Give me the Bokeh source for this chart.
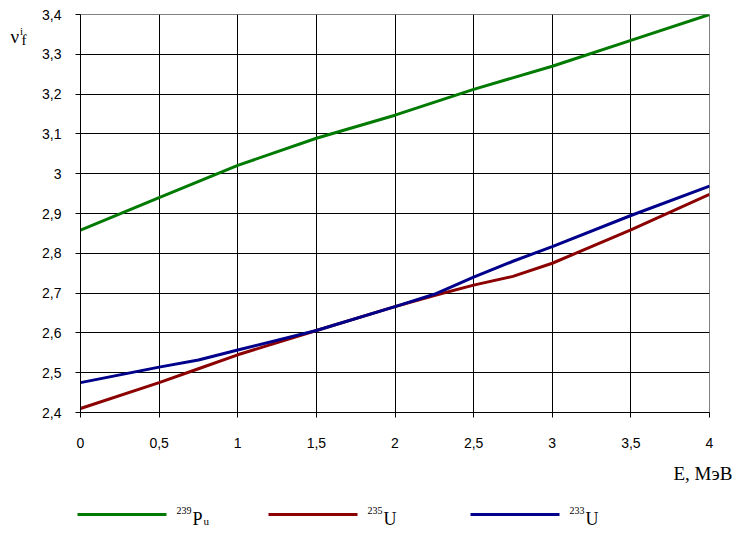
from bokeh.plotting import figure
from bokeh.layouts import column, row
from bokeh.models import Range1d, FixedTicker, CustomJSTickFormatter
from bokeh.core.properties import value
from bokeh.embed import file_html
from bokeh.resources import INLINE

# ---- data ----
E_pu = [0, 0.5, 1, 1.5, 2, 2.5, 3, 3.5, 4]
nu_pu239 = [2.858, 2.94, 3.021, 3.089, 3.147, 3.212, 3.27, 3.335, 3.40]

E_u = [0, 0.5, 0.75, 1, 1.5, 2, 2.25, 2.5, 2.75, 3, 3.5, 4]
nu_u235 = [2.41, 2.475, 2.51, 2.545, 2.606, 2.666, 2.694, 2.72, 2.742, 2.775, 2.859, 2.948]
nu_u233 = [2.475, 2.514, 2.532, 2.557, 2.606, 2.666, 2.697, 2.74, 2.78, 2.817, 2.895, 2.969]

x_ticks = [0, 0.5, 1, 1.5, 2, 2.5, 3, 3.5, 4]
y_ticks = [2.4, 2.5, 2.6, 2.7, 2.8, 2.9, 3.0, 3.1, 3.2, 3.3, 3.4]

x_title = "E, МэВ"
legend_sup = ["239", "235", "233"]
legend_base = ["P", "U", "U"]
legend_sub = ["u", "", ""]
colors = ["#007a00", "#8b0000", "#00008b"]
series_x = [E_pu, E_u, E_u]
series_y = [nu_pu239, nu_u235, nu_u233]

serif = "Liberation Serif"

def blank(width, height, x0, x1, y0, y1):
    f = figure(width=width, height=height, x_range=Range1d(x0, x1), y_range=Range1d(y0, y1),
               x_axis_location=None, y_axis_location=None,
               min_border=0, min_border_left=0, min_border_right=0,
               min_border_top=0, min_border_bottom=0,
               output_backend="svg", toolbar_location=None)
    f.grid.visible = False
    f.outline_line_color = None
    f.background_fill_color = "white"
    f.border_fill_color = "white"
    return f

# ---- main chart ----
p = figure(frame_width=629, frame_height=398,
           min_border_left=50, min_border_top=14, min_border_right=33, min_border_bottom=48,
           x_range=Range1d(0, 4), y_range=Range1d(2.4, 3.4),
           output_backend="svg", toolbar_location=None,
           background_fill_color="white", border_fill_color="white")
p.outline_line_color = "#808080"
p.outline_line_width = 1

fmt = CustomJSTickFormatter(code="return (Math.round(tick*10)/10).toString().replace('.', ',');")
for ax, ticks in ((p.xaxis[0], x_ticks), (p.yaxis[0], y_ticks)):
    ax.ticker = FixedTicker(ticks=ticks)
    ax.formatter = fmt
    ax.axis_line_color = "black"
    ax.major_tick_line_color = "black"
    ax.major_tick_out = 5
    ax.major_tick_in = 0
    ax.minor_tick_line_color = None
    ax.major_label_text_font = "Liberation Sans"
    ax.major_label_text_font_size = "14px"
    ax.major_label_text_color = "black"
p.xaxis[0].major_label_standoff = 20
p.yaxis[0].major_label_standoff = 14

p.xgrid[0].ticker = FixedTicker(ticks=x_ticks[1:-1])
p.ygrid[0].ticker = FixedTicker(ticks=y_ticks[1:-1])
for g in (p.xgrid[0], p.ygrid[0]):
    g.grid_line_color = "black"
    g.grid_line_width = 1
    g.grid_line_alpha = 1.0

for xs, ys, col in zip(series_x, series_y, colors):
    p.line(xs, ys, line_color=col, line_width=3)

H_MAIN = 14 + 398 + 48

# ---- y title (left strip, pixel coordinates, y downwards) ----
fy = blank(30, H_MAIN, 0, 30, H_MAIN, 0)
fy.text(x=[10], y=[25], text=["ν"], text_font=value(serif), text_font_size="19px",
        text_color="black", text_baseline="alphabetic", text_align="left")
fy.text(x=[19.5], y=[19], text=["i"], text_font=value(serif), text_font_size="11px",
        text_color="black", text_baseline="alphabetic", text_align="left")
fy.text(x=[21], y=[29], text=["f"], text_font=value(serif), text_font_size="15px",
        text_color="black", text_baseline="alphabetic", text_align="left")

# ---- bottom strip: x title and legend (pixel coordinates, y downwards) ----
W_ALL = 30 + 50 + 629 + 33
H_BOT = 543 - H_MAIN
fb = blank(W_ALL, H_BOT, 0, W_ALL, 543, H_MAIN)
fb.text(x=[673], y=[473], text=[x_title], text_font=value(serif), text_font_size="19px",
        text_color="black", text_baseline="alphabetic", text_align="left")

leg_x = [77, 268, 470]
for lx, sup, base, sub, col in zip(leg_x, legend_sup, legend_base, legend_sub, colors):
    fb.line([lx, lx + 89], [514, 514], line_color=col, line_width=3)
    tx = lx + 99
    fb.text(x=[tx], y=[510], text=[sup], text_font=value(serif), text_font_size="10px",
            text_color="black", text_baseline="alphabetic", text_align="left")
    fb.text(x=[tx + 16], y=[518], text=[base], text_font=value(serif), text_font_size="18px",
            text_color="black", text_baseline="alphabetic", text_align="left")
    if sub:
        fb.text(x=[tx + 27], y=[520], text=[sub], text_font=value(serif), text_font_size="11px",
                text_color="black", text_baseline="alphabetic", text_align="left")

layout = column(row(fy, p, spacing=0), fb, spacing=0)
open("out.html", "w").write(file_html(layout, INLINE))
